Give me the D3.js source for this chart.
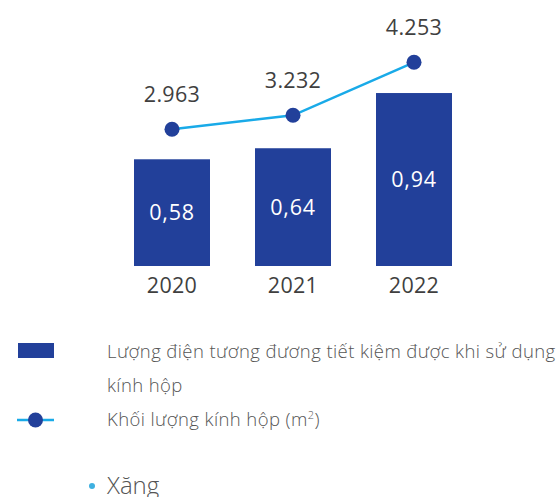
<!DOCTYPE html>
<html>
<head>
<meta charset="utf-8">
<script src="https://cdn.jsdelivr.net/npm/d3@7"></script>
<style>
  html, body { margin: 0; padding: 0; background: #fff; }
  svg { display: block; }
  text { font-family: "Open Sans", Lato, sans-serif; }
</style>
</head>
<body>
<svg id="chart" width="558" height="497"></svg>
<script>
// Years on the category axis
const years = ["2020", "2021", "2022"];
// Electricity saved by using insulated glass (bars)
const energySaved = [0.58, 0.64, 0.94];
const energyLabels = ["0,58", "0,64", "0,94"];
// Insulated glass volume, m² (line)
const glassVolume = [2963, 3232, 4253];
const glassLabels = ["2.963", "3.232", "4.253"];
// Legend entries
const legendBar = ["Lượng điện tương đương tiết kiệm được khi sử dụng", "kính hộp"];
const legendLine = "Khối lượng kính hộp (m";
const bulletText = "Xăng";

const barColor = "#22409a";
const lineColor = "#19aae8";
const textColor = "#3f3f3f";
const legendColor = "#555555";

const svg = d3.select("#chart");

const x = d3.scaleBand()
  .domain(years)
  .range([111.5, 474.5])
  .paddingInner(0.372)
  .paddingOuter(0.186);

const yBar = d3.scaleLinear().domain([0, 1]).range([266, 82]);
const yLine = d3.scaleLinear().domain([0, 4253]).range([283, 62.3]);

// Bars
svg.selectAll("rect.bar")
  .data(energySaved)
  .join("rect")
  .attr("class", "bar")
  .attr("x", (d, i) => x(years[i]))
  .attr("y", d => yBar(d))
  .attr("width", x.bandwidth())
  .attr("height", d => yBar(0) - yBar(d))
  .attr("fill", barColor);

// Bar value labels (white, centred in bar)
svg.selectAll("text.barval")
  .data(energySaved)
  .join("text")
  .attr("class", "barval")
  .attr("x", (d, i) => x(years[i]) + x.bandwidth() / 2)
  .attr("y", d => (yBar(d) + yBar(0)) / 2)
  .attr("dy", "0.35em")
  .attr("text-anchor", "middle")
  .attr("fill", "#fff")
  .attr("font-size", 21.5)
  .attr("letter-spacing", 0.8)
  .text((d, i) => energyLabels[i]);

// Category axis labels
const xAxis = d3.axisBottom(x).tickSize(0).tickPadding(0);
const gx = svg.append("g").attr("transform", "translate(0,266)").call(xAxis);
gx.select(".domain").remove();
gx.selectAll("text")
  .attr("y", 19)
  .attr("dy", "0.35em")
  .attr("fill", textColor)
  .attr("font-size", 21.5)
  .attr("letter-spacing", 0.3)
  .attr("font-family", "'Open Sans', Lato, sans-serif");

// Line series
const cx = (d, i) => x(years[i]) + x.bandwidth() / 2;
const line = d3.line().x(cx).y(d => yLine(d));
svg.append("path")
  .datum(glassVolume)
  .attr("d", line)
  .attr("fill", "none")
  .attr("stroke", lineColor)
  .attr("stroke-width", 2.5);

svg.selectAll("circle.pt")
  .data(glassVolume)
  .join("circle")
  .attr("class", "pt")
  .attr("cx", cx)
  .attr("cy", d => yLine(d))
  .attr("r", 7.5)
  .attr("fill", barColor);

svg.selectAll("text.ptval")
  .data(glassVolume)
  .join("text")
  .attr("class", "ptval")
  .attr("x", cx)
  .attr("y", d => yLine(d) - 35)
  .attr("dy", "0.35em")
  .attr("text-anchor", "middle")
  .attr("fill", textColor)
  .attr("font-size", 21.5)
  .attr("letter-spacing", 0.3)
  .text((d, i) => glassLabels[i]);

// Legend
const lg = svg.append("g");
lg.append("rect")
  .attr("x", 18).attr("y", 343).attr("width", 36).attr("height", 15)
  .attr("fill", barColor);
lg.selectAll("text.lb")
  .data(legendBar)
  .join("text")
  .attr("class", "lb")
  .attr("x", 107)
  .attr("y", (d, i) => 352 + i * 34)
  .attr("dy", "0.35em")
  .attr("fill", legendColor)
  .attr("font-size", 18.5)
  .attr("font-weight", 300)
  .attr("letter-spacing", 0.4)
  .text(d => d);

lg.append("line")
  .attr("x1", 17).attr("x2", 54).attr("y1", 420).attr("y2", 420)
  .attr("stroke", lineColor).attr("stroke-width", 2.5);
lg.append("circle")
  .attr("cx", 35.5).attr("cy", 420).attr("r", 7.5)
  .attr("fill", barColor);
const lt = lg.append("text")
  .attr("x", 107).attr("y", 420).attr("dy", "0.35em")
  .attr("fill", legendColor)
  .attr("font-size", 18.5)
  .attr("font-weight", 300)
  .attr("letter-spacing", 0.4);
lt.append("tspan").text(legendLine);
lt.append("tspan").attr("font-size", 11).attr("dy", -7).text("2");
lt.append("tspan").attr("dy", 7).text(")");

// Bullet line below
svg.append("circle").attr("cx", 92).attr("cy", 486).attr("r", 3).attr("fill", "#3fb0e0");
svg.append("text")
  .attr("x", 107).attr("y", 486).attr("dy", "0.35em")
  .attr("fill", legendColor)
  .attr("font-size", 24)
  .attr("font-weight", 300)
  .text(bulletText);
</script>
</body>
</html>
